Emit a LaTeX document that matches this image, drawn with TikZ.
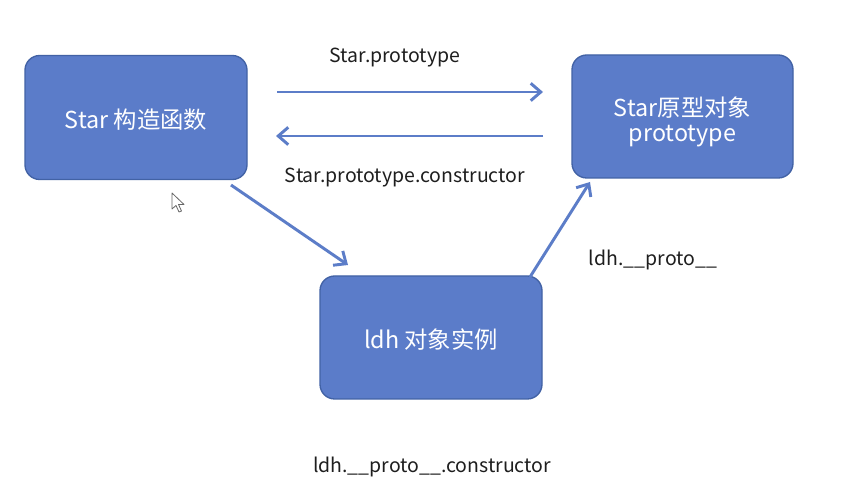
\documentclass[tikz,border=0pt]{standalone}
\usepackage{fontspec}
\setmainfont{Noto Sans CJK SC}
\usetikzlibrary{arrows.meta}
\definecolor{boxfill}{RGB}{91,124,201}
\definecolor{boxline}{RGB}{66,98,165}
\definecolor{arrowc}{RGB}{92,125,200}
\definecolor{labelc}{RGB}{30,30,30}
\newcommand{\boxtxt}[2]{\raisebox{#1}[\height][\depth]{\begin{tabular}{@{}c@{}}#2\end{tabular}}}
\tikzset{
  px/.style={x=0.75pt,y=-0.75pt},
  objbox/.style={draw=boxline,line width=1pt,fill=boxfill,rounded corners=11pt,
    text=white,font=\fontsize{17.5pt}{18.8pt}\selectfont,align=center,inner sep=0pt},
  arr/.style={draw=arrowc,line width=2.2pt,-{Straight Barb[length=7.5pt,width=13pt,line width=2.2pt]}},
  lbl/.style={text=labelc,font=\fontsize{14.6pt}{17pt}\selectfont,inner sep=0pt}
}
\begin{document}
\begin{tikzpicture}[px]
\useasboundingbox (0,0) rectangle (854,498);
\fill[white] (0,0) rectangle (854,498);
% boxes
\node[objbox,minimum width=222*0.75pt,minimum height=124*0.75pt] (star) at (136,117.5) {\boxtxt{-3.75pt}{Star 构造函数}};
\node[objbox,minimum width=221*0.75pt,minimum height=123*0.75pt] (proto) at (682.5,116.5) {\boxtxt{-4.5pt}{Star原型对象\\prototype}};
\node[objbox,minimum width=222*0.75pt,minimum height=123*0.75pt] (ldh) at (431,337.5) {\boxtxt{-3.75pt}{ldh 对象实例}};
% labels
\node[lbl] (l1) at (395,58) {Star.prototype};
\node[lbl] (l2) at (405,178) {Star.prototype.constructor};
\node[lbl] (l3) at (653,260) {ldh.\_\_proto\_\_};
\node[lbl] (l4) at (432,467) {ldh.\_\_proto\_\_.constructor};
% connector end points
\coordinate (a1s) at (277,92);
\coordinate (a1e) at (543,92);
\coordinate (a2s) at (543,136);
\coordinate (a2e) at (276,136);
\coordinate (a3s) at (231,185);
\coordinate (a3e) at (348,265);
\coordinate (a4s) at (530,277);
\coordinate (a4e) at (590,182);
\draw[arr] (a1s) -- (a1e);
\draw[arr] (a2s) -- (a2e);
\draw[arr] (a3s) -- (a3e);
\draw[arr] (a4s) -- (a4e);
% mouse cursor
\draw[fill=white,draw=gray!80!black,line width=0.6pt,line join=round]
  (172,193) -- (172,209) -- (176,205.5) -- (179,212) -- (181.5,211) -- (178.5,204.5) -- (184,204.5) -- cycle;
\end{tikzpicture}
\end{document}
